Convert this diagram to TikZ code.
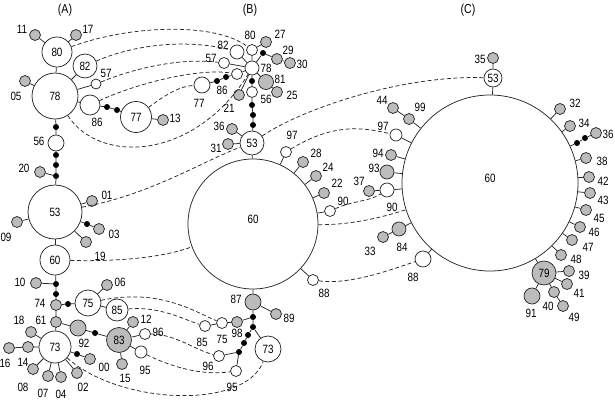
\documentclass[tikz,border=0pt]{standalone}
\usepackage{fontspec}
\setmainfont{Liberation Sans}[FakeStretch=0.82]
\definecolor{hapgray}{RGB}{188,188,188}
\definecolor{linegray}{RGB}{40,40,40}
\tikzset{
  hap/.style={circle, draw=linegray, line width=0.75pt, fill=white, inner sep=0pt,
    minimum size=#1, font=\fontsize{12}{12}\selectfont},
  hap/.default=11,
  uniq/.style={hap=#1, fill=hapgray},
  uniq/.default=11,
  mv/.style={circle, fill=black, inner sep=0pt, minimum size=6},
  lbl/.style={inner sep=0pt, font=\fontsize{12}{12}\selectfont},
  edge/.style={draw=linegray, line width=0.75pt},
  link/.style={draw=linegray, line width=0.75pt, dash pattern=on 4pt off 2.5pt},
}
\begin{document}
\begin{tikzpicture}[x=1pt, y=-1pt]
    \useasboundingbox (0,0) rectangle (615,402);

    % Titulos
    \node[lbl, font=\fontsize{13}{13}\selectfont] (tA) at (65,10) {(A)};
    \node[lbl, font=\fontsize{13}{13}\selectfont] (tB) at (250,10) {(B)};
    \node[lbl, font=\fontsize{13}{13}\selectfont] (tC) at (468,10) {(C)};

    % Rede A
    \node[hap=30] (a80) at (57,52) {80};
    \node[uniq] (a11) at (35,35) {};
    \node[uniq] (a17) at (76,35) {};
    \node[hap=24] (a82) at (85,66) {82};
    \node[hap=10] (a57) at (96,84) {};
    \node[hap=46] (a78) at (55,96) {78};
    \node[uniq] (a05) at (25,81) {};
    \node[hap=20] (a86) at (90,105) {};
    \node[mv] (am1) at (107,107) {};
    \node[mv] (am2) at (117,110) {};
    \node[hap=31] (a77) at (136,117) {77};
    \node[uniq] (a13) at (163,120) {};
    \node[mv] (am3) at (56,127) {};
    \node[hap=16] (a56) at (56,143) {};
    \node[mv] (am4) at (56,155) {};
    \node[mv] (am5) at (56,165) {};
    \node[mv] (am6) at (56,176) {};
    \node[uniq] (a20) at (40,172) {};
    \node[hap=54] (a53) at (55,212) {53};
    \node[uniq] (a01) at (92,201) {};
    \node[mv] (am7) at (87,224) {};
    \node[uniq] (a03) at (99,229) {};
    \node[uniq] (a09) at (17,222) {};
    \node[uniq] (a19) at (86,242) {};
    \node[hap=30] (a60) at (55,260) {60};
    \node[mv] (am8) at (56,284) {};
    \node[uniq] (a10) at (36,283) {};
    \node[mv] (am9) at (56,294) {};
    \node[uniq] (a74) at (56,305) {};
    \node[mv] (am10) at (68,304) {};
    \node[hap=26] (a75) at (88,303) {75};
    \node[uniq] (a06) at (107,285) {};
    \node[hap=22] (a85) at (117,310) {85};
    \node[uniq] (a61) at (56,322) {};
    \node[uniq=16] (a92) at (78,328) {};
    \node[mv] (am11) at (95,333) {};
    \node[uniq=25] (a83) at (119,340) {83};
    \node[uniq] (a12) at (133,322) {};
    \node[hap=11] (a96) at (145,334) {};
    \node[hap=12] (a95) at (141,352) {};
    \node[uniq] (a15) at (122,364) {};
    \node[hap=32] (a73) at (55,347) {73};
    \node[uniq] (a18) at (31,332) {};
    \node[uniq] (a14) at (28,347) {};
    \node[uniq] (a16) at (9,348) {};
    \node[uniq] (a08) at (33,369) {};
    \node[uniq] (a07) at (48,376) {};
    \node[uniq] (a04) at (61,377) {};
    \node[uniq] (a02) at (77,373) {};
    \node[mv] (am12) at (77,354) {};
    \node[uniq] (a00) at (90,359) {};

    \draw[edge] (a80) -- (a11); \draw[edge] (a80) -- (a17); \draw[edge] (a80) -- (a78);
    \draw[edge] (a78) -- (a05); \draw[edge] (a78) -- (a82); \draw[edge] (a78) -- (a57);
    \draw[edge] (a78) -- (a86) -- (am1) -- (am2) -- (a77) -- (a13);
    \draw[edge] (a78) -- (am3) -- (a56) -- (am4) -- (am5) -- (am6) -- (a53);
    \draw[edge] (am6) -- (a20);
    \draw[edge] (a53) -- (a01); \draw[edge] (a53) -- (am7) -- (a03);
    \draw[edge] (a53) -- (a09); \draw[edge] (a53) -- (a19); \draw[edge] (a53) -- (a60);
    \draw[edge] (a60) -- (am8) -- (am9) -- (a74) -- (a61) -- (a73);
    \draw[edge] (am8) -- (a10);
    \draw[edge] (a74) -- (am10) -- (a75) -- (a06); \draw[edge] (a75) -- (a85);
    \draw[edge] (a61) -- (a92) -- (am11) -- (a83) -- (a12);
    \draw[edge] (a83) -- (a96); \draw[edge] (a83) -- (a95); \draw[edge] (a83) -- (a15);
    \draw[edge] (a73) -- (a18); \draw[edge] (a73) -- (a14) -- (a16);
    \draw[edge] (a73) -- (a08); \draw[edge] (a73) -- (a07); \draw[edge] (a73) -- (a04);
    \draw[edge] (a73) -- (a02); \draw[edge] (a73) -- (am12) -- (a00);

    \node[lbl] (la11) at (22,29) {11};
    \node[lbl] (la17) at (88,29) {17};
    \node[lbl] (la57) at (106,73) {57};
    \node[lbl] (la05) at (16,96) {05};
    \node[lbl] (la86) at (97,122) {86};
    \node[lbl] (la13) at (175,118) {13};
    \node[lbl] (la56) at (39,141) {56};
    \node[lbl] (la20) at (24,168) {20};
    \node[lbl] (la01) at (107,195) {01};
    \node[lbl] (la03) at (114,234) {03};
    \node[lbl] (la09) at (6,237) {09};
    \node[lbl] (la19) at (100,256) {19};
    \node[lbl] (la10) at (20,282) {10};
    \node[lbl] (la74) at (40,303) {74};
    \node[lbl] (la06) at (120,282) {06};
    \node[lbl] (la61) at (41,320) {61};
    \node[lbl] (la18) at (19,320) {18};
    \node[lbl] (la92) at (84,343) {92};
    \node[lbl] (la12) at (146,319) {12};
    \node[lbl] (la96) at (158,332) {96};
    \node[lbl] (la95) at (145,370) {95};
    \node[lbl] (la15) at (125,378) {15};
    \node[lbl] (la00) at (104,367) {00};
    \node[lbl] (la16) at (5,363) {16};
    \node[lbl] (la14) at (23,362) {14};
    \node[lbl] (la08) at (23,387) {08};
    \node[lbl] (la07) at (43,393) {07};
    \node[lbl] (la04) at (61,394) {04};
    \node[lbl] (la02) at (83,387) {02};

    % Rede B
    \node[hap] (b80) at (252,50) {};
    \node[uniq] (b27) at (266,42) {};
    \node[mv] (bm1) at (263,53) {};
    \node[uniq] (b29) at (277,59) {};
    \node[uniq] (b30) at (290,63) {};
    \node[hap=14] (b78) at (252,68) {};
    \node[hap=14] (b82) at (237,52) {};
    \node[hap] (b57) at (224,63) {};
    \node[hap] (b86) at (237,74) {};
    \node[mv] (bm2) at (226,77) {};
    \node[mv] (bm3) at (217,81) {};
    \node[hap=16] (b77) at (202,85) {};
    \node[uniq=15] (b81) at (266,82) {};
    \node[uniq] (b25) at (277,92) {};
    \node[mv] (bm4) at (252,81) {};
    \node[hap] (b56) at (252,92) {};
    \node[uniq] (b21) at (239,95) {};
    \node[mv] (bm5) at (252,105) {};
    \node[mv] (bm6) at (253,115) {};
    \node[mv] (bm7) at (253,125) {};
    \node[hap=24] (b53) at (252,143) {53};
    \node[uniq] (b36) at (232,129) {};
    \node[uniq] (b31) at (228,144) {};
    \node[hap=130, label={[lbl, yshift=5pt]center:60}] (b60) at (253,224) {};
    \node[hap] (b97) at (286,152) {};
    \node[uniq] (b28) at (303,162) {};
    \node[uniq] (b24) at (316,176) {};
    \node[uniq] (b22) at (324,193) {};
    \node[hap] (b90) at (330,211) {};
    \node[hap] (b88) at (313,280) {};
    \node[uniq=16] (b87) at (253,302) {};
    \node[uniq] (b89) at (276,314) {};
    \node[mv] (bm8) at (253,317) {};
    \node[uniq] (b98) at (237,322) {};
    \node[hap] (b75) at (222,323) {};
    \node[hap] (b85) at (205,326) {};
    \node[mv] (bm9) at (253,327) {};
    \node[mv] (bm10) at (248,335) {};
    \node[mv] (bm11) at (244,343) {};
    \node[mv] (bm12) at (239,352) {};
    \node[hap=26] (b73) at (268,349) {73};
    \node[hap] (b96) at (219,356) {};
    \node[hap] (b95) at (236,371) {};

    \draw[edge] (b78) -- (b80) -- (b27);
    \draw[edge] (b78) -- (bm1) -- (b29) -- (b30);
    \draw[edge] (b78) -- (b82); \draw[edge] (b78) -- (b57);
    \draw[edge] (b78) -- (b86) -- (bm2) -- (bm3) -- (b77);
    \draw[edge] (b78) -- (b81) -- (b25);
    \draw[edge] (b78) -- (bm4) -- (b56) -- (bm5) -- (bm6) -- (bm7) -- (b53);
    \draw[edge] (b78) -- (b21);
    \draw[edge] (b53) -- (b36); \draw[edge] (b53) -- (b31); \draw[edge] (b53) -- (b60);
    \draw[edge] (b60) -- (b97); \draw[edge] (b60) -- (b28); \draw[edge] (b60) -- (b24);
    \draw[edge] (b60) -- (b22); \draw[edge] (b60) -- (b90); \draw[edge] (b60) -- (b88);
    \draw[edge] (b60) -- (b87) -- (b89);
    \draw[edge] (b87) -- (bm8) -- (b98) -- (b75) -- (b85);
    \draw[edge] (bm8) -- (bm9) -- (b73);
    \draw[edge] (bm9) -- (bm10) -- (bm11) -- (bm12) -- (b96);
    \draw[edge] (bm12) -- (b95);

    \node[lbl] (lb80) at (250,35) {80};
    \node[lbl] (lb27) at (280,34) {27};
    \node[lbl] (lb29) at (288,50) {29};
    \node[lbl] (lb30) at (302,64) {30};
    \node[lbl] (lb78) at (266,68) {78};
    \node[lbl] (lb82) at (223,45) {82};
    \node[lbl] (lb57) at (211,58) {57};
    \node[lbl] (lb86) at (222,90) {86};
    \node[lbl] (lb77) at (199,103) {77};
    \node[lbl] (lb81) at (280,79) {81};
    \node[lbl] (lb25) at (292,95) {25};
    \node[lbl] (lb56) at (266,99) {56};
    \node[lbl] (lb21) at (229,108) {21};
    \node[lbl] (lb36) at (219,126) {36};
    \node[lbl] (lb31) at (216,148) {31};
    \node[lbl] (lb97) at (292,135) {97};
    \node[lbl] (lb28) at (316,153) {28};
    \node[lbl] (lb24) at (328,167) {24};
    \node[lbl] (lb22) at (337,183) {22};
    \node[lbl] (lb90) at (343,201) {90};
    \node[lbl] (lb88) at (324,293) {88};
    \node[lbl] (lb87) at (236,299) {87};
    \node[lbl] (lb89) at (289,318) {89};
    \node[lbl] (lb98) at (237,333) {98};
    \node[lbl] (lb75) at (222,339) {75};
    \node[lbl] (lb85) at (202,342) {85};
    \node[lbl] (lb96) at (208,366) {96};
    \node[lbl] (lb95) at (232,387) {95};

    % Rede C
    \node[hap=176, label={[lbl, yshift=5pt]center:60}] (c60) at (490,183) {};
    \node[hap=18] (c53) at (493,78) {53};
    \node[uniq] (c35) at (493,58) {};
    \node[uniq] (c44) at (393,108) {};
    \node[uniq] (c99) at (409,119) {};
    \node[hap=12] (c97) at (396,135) {};
    \node[uniq] (c94) at (391,155) {};
    \node[uniq=14] (c93) at (387,172) {};
    \node[hap=14] (c90) at (387,190) {};
    \node[uniq] (c37) at (369,191) {};
    \node[uniq=14] (c84) at (399,229) {};
    \node[uniq] (c33) at (383,237) {};
    \node[hap=16] (c88) at (423,259) {};
    \node[uniq] (c32) at (560,109) {};
    \node[uniq] (c34) at (570,126) {};
    \node[mv] (cm1) at (577,143) {};
    \node[mv] (cm2) at (585,138) {};
    \node[uniq] (c36) at (596,133) {};
    \node[uniq] (c38) at (586,158) {};
    \node[uniq] (c42) at (589,177) {};
    \node[uniq] (c43) at (590,193) {};
    \node[uniq] (c45) at (586,210) {};
    \node[uniq] (c46) at (580,227) {};
    \node[uniq] (c47) at (572,240) {};
    \node[uniq] (c48) at (561,255) {};
    \node[uniq=24] (c79) at (544,273) {79};
    \node[uniq] (c39) at (569,271) {};
    \node[uniq] (c41) at (567,284) {};
    \node[uniq] (c40) at (554,292) {};
    \node[uniq] (c49) at (563,306) {};
    \node[uniq=16] (c91) at (532,296) {};

    \draw[edge] (c35) -- (c53) -- (c60);
    \draw[edge] (c60) -- (c99) -- (c44); \draw[edge] (c60) -- (c97);
    \draw[edge] (c60) -- (c94); \draw[edge] (c60) -- (c93);
    \draw[edge] (c60) -- (c90) -- (c37); \draw[edge] (c60) -- (c84) -- (c33);
    \draw[edge] (c60) -- (c88);
    \draw[edge] (c60) -- (c32); \draw[edge] (c60) -- (c34);
    \draw[edge] (c60) -- (cm1) -- (cm2) -- (c36);
    \draw[edge] (c60) -- (c38); \draw[edge] (c60) -- (c42); \draw[edge] (c60) -- (c43);
    \draw[edge] (c60) -- (c45); \draw[edge] (c60) -- (c46); \draw[edge] (c60) -- (c47);
    \draw[edge] (c60) -- (c48); \draw[edge] (c60) -- (c79);
    \draw[edge] (c79) -- (c39); \draw[edge] (c79) -- (c41);
    \draw[edge] (c79) -- (c40) -- (c49); \draw[edge] (c79) -- (c91);

    \node[lbl] (lc35) at (480,59) {35};
    \node[lbl] (lc44) at (382,100) {44};
    \node[lbl] (lc99) at (420,107) {99};
    \node[lbl] (lc97) at (383,126) {97};
    \node[lbl] (lc94) at (378,153) {94};
    \node[lbl] (lc93) at (374,168) {93};
    \node[lbl] (lc37) at (359,181) {37};
    \node[lbl] (lc90) at (392,207) {90};
    \node[lbl] (lc84) at (402,247) {84};
    \node[lbl] (lc33) at (370,251) {33};
    \node[lbl] (lc88) at (413,277) {88};
    \node[lbl] (lc32) at (575,103) {32};
    \node[lbl] (lc34) at (584,123) {34};
    \node[lbl] (lc36) at (608,134) {36};
    \node[lbl] (lc38) at (602,161) {38};
    \node[lbl] (lc42) at (603,181) {42};
    \node[lbl] (lc43) at (603,200) {43};
    \node[lbl] (lc45) at (599,218) {45};
    \node[lbl] (lc46) at (594,232) {46};
    \node[lbl] (lc47) at (588,247) {47};
    \node[lbl] (lc48) at (576,259) {48};
    \node[lbl] (lc39) at (584,275) {39};
    \node[lbl] (lc41) at (579,293) {41};
    \node[lbl] (lc40) at (548,306) {40};
    \node[lbl] (lc49) at (574,317) {49};
    \node[lbl] (lc91) at (531,313) {91};

    % Ligacoes tracejadas A-B
    \draw[link] (a80) .. controls (130,25) and (215,22) .. (b80);
    \draw[link] (a82) .. controls (140,42) and (195,40) .. (b82);
    \draw[link] (a57) .. controls (140,66) and (185,58) .. (b57);
    \draw[link] (a86) .. controls (140,82) and (200,68) .. (b86);
    \draw[link] (a77) .. controls (165,95) and (180,86) .. (b77);
    \draw[link] (a78) .. controls (100,165) and (195,160) .. (b78);
    \draw[link] (a53) .. controls (150,195) and (205,160) .. (b53);
    \draw[link] (a60) .. controls (130,262) and (170,255) .. (b60);
    \draw[link] (a75) .. controls (160,288) and (195,312) .. (b75);
    \draw[link] (a85) .. controls (160,306) and (185,320) .. (b85);
    \draw[link] (a96) .. controls (175,334) and (195,350) .. (b96);
    \draw[link] (a95) .. controls (170,366) and (200,376) .. (b95);
    \draw[link] (a73) .. controls (120,405) and (245,410) .. (b73);

    % Ligacoes tracejadas B-C
    \draw[link] (b53) .. controls (300,110) and (400,75) .. (c53);
    \draw[link] (b97) .. controls (335,122) and (365,128) .. (c97);
    \draw[link] (b90) .. controls (355,200) and (368,202) .. (c90);
    \draw[link] (b60) .. controls (350,225) and (380,218) .. (c60);
    \draw[link] (b88) .. controls (350,285) and (390,270) .. (c88);
\end{tikzpicture}
\end{document}
